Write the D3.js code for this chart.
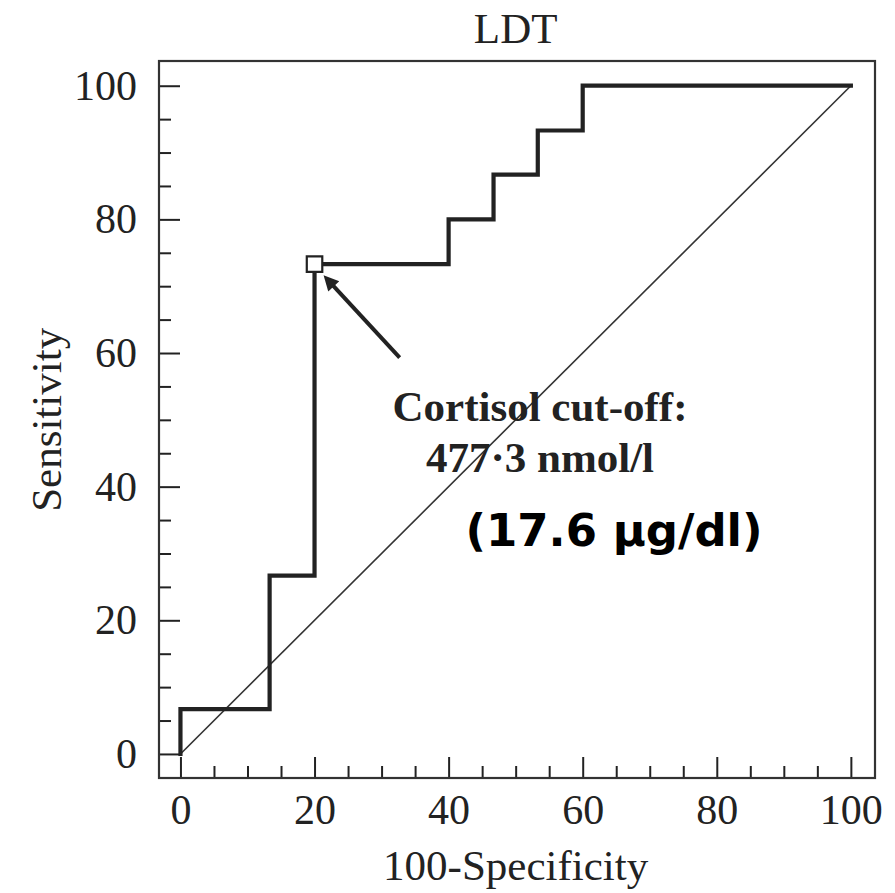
<!DOCTYPE html>
<html>
<head>
<meta charset="utf-8">
<script src="https://cdn.jsdelivr.net/npm/d3@7"></script>
<style>
  body { margin: 0; background: #fff; }
  text { font-family: "Liberation Serif", "Times New Roman", serif; fill: #222; }
</style>
</head>
<body>
<div id="chart"></div>
<script>
// ROC curve corner points (100-specificity, sensitivity)
var fprValues = [0, 0, 13.3, 13.3, 20, 20, 40, 40, 46.7, 46.7, 53.3, 53.3, 60, 60, 100];
var tprValues = [0, 6.7, 6.7, 26.7, 26.7, 73.3, 73.3, 80, 80, 86.7, 86.7, 93.3, 93.3, 100, 100];
var majorTicks = [0, 20, 40, 60, 80, 100];
var minorTicks = [5, 10, 15, 25, 30, 35, 45, 50, 55, 65, 70, 75, 85, 90, 95];
// cut-off point and its annotation
var cutoff = { x: 20, y: 73.3 };
var arrowTail = { x: 32.7, y: 59.3 };
var labelLines = ["Cortisol cut-off:", "477·3 nmol/l"];
var extraLabel = "(17.6 µg/dl)";

var W = 895, H = 893;
var svg = d3.select("#chart").append("svg")
  .attr("width", W).attr("height", H);

// frame goes a bit beyond 0..100 on each side
var x = d3.scaleLinear().domain([-3.2, 103.6]).range([159, 875]);
var y = d3.scaleLinear().domain([-3.6, 103.7]).range([778, 61]);

var ink = "#222";

// minor ticks (inward, no labels)
svg.append("g")
  .attr("transform", "translate(0," + y.range()[0] + ")")
  .call(d3.axisBottom(x).tickValues(minorTicks).tickSize(-12).tickFormat(""))
  .call(function(g){ g.select(".domain").remove(); });
svg.append("g")
  .attr("transform", "translate(" + x.range()[0] + ",0)")
  .call(d3.axisLeft(y).tickValues(minorTicks).tickSize(-12).tickFormat(""))
  .call(function(g){ g.select(".domain").remove(); });

// major ticks with labels
var xAxis = svg.append("g")
  .attr("transform", "translate(0," + y.range()[0] + ")")
  .call(d3.axisBottom(x).tickValues(majorTicks).tickSize(-21).tickPadding(16.5));
var yAxis = svg.append("g")
  .attr("transform", "translate(" + x.range()[0] + ",0)")
  .call(d3.axisLeft(y).tickValues(majorTicks).tickSize(-21).tickPadding(22));

svg.selectAll(".tick line").attr("stroke", ink).attr("stroke-width", 2);
[xAxis, yAxis].forEach(function(g){
  g.select(".domain").remove();
  g.selectAll(".tick text")
    .style("font-family", "'Liberation Serif', 'Times New Roman', serif")
    .style("font-size", "42px")
    .attr("fill", "#2a2a2a");
});

// frame
svg.append("rect")
  .attr("x", x.range()[0]).attr("y", y.range()[1])
  .attr("width", x.range()[1] - x.range()[0])
  .attr("height", y.range()[0] - y.range()[1])
  .attr("fill", "none").attr("stroke", "#333").attr("stroke-width", 2.2);

// diagonal reference line
svg.append("line")
  .attr("x1", x(0)).attr("y1", y(0))
  .attr("x2", x(100)).attr("y2", y(100))
  .attr("stroke", "#333").attr("stroke-width", 1.6);

// ROC curve
var pts = fprValues.map(function(d, i){ return [d, tprValues[i]]; });
var line = d3.line()
  .x(function(d){ return x(d[0]); })
  .y(function(d){ return y(d[1]); });
svg.append("path")
  .datum(pts)
  .attr("d", line)
  .attr("fill", "none")
  .attr("stroke", ink)
  .attr("stroke-width", 4.2)
  .attr("stroke-linejoin", "miter")
  .attr("stroke-linecap", "square");

// arrow to the cut-off point
svg.append("defs").append("marker")
  .attr("id", "arrowhead")
  .attr("viewBox", "0 0 10 10")
  .attr("refX", 2).attr("refY", 5)
  .attr("markerUnits", "userSpaceOnUse")
  .attr("markerWidth", 19).attr("markerHeight", 15)
  .attr("orient", "auto")
  .append("path")
  .attr("d", "M0,0 L10,5 L0,10 z")
  .attr("fill", ink);

var tipX = x(cutoff.x) + 7, tipY = y(cutoff.y) + 9;
var ang = Math.atan2(tipY - y(arrowTail.y), tipX - x(arrowTail.x));
svg.append("line")
  .attr("x1", x(arrowTail.x)).attr("y1", y(arrowTail.y))
  .attr("x2", tipX - 15 * Math.cos(ang)).attr("y2", tipY - 15 * Math.sin(ang))
  .attr("stroke", ink).attr("stroke-width", 4)
  .attr("marker-end", "url(#arrowhead)");

// cut-off marker
svg.append("path")
  .attr("d", d3.symbol().type(d3.symbolSquare).size(240)())
  .attr("transform", "translate(" + x(cutoff.x) + "," + y(cutoff.y) + ")")
  .attr("fill", "#fff")
  .attr("stroke", ink)
  .attr("stroke-width", 2.2);

// annotation text
var annX = 540;
svg.selectAll(".ann")
  .data(labelLines)
  .enter().append("text")
  .attr("class", "ann")
  .attr("x", annX)
  .attr("y", function(d, i){ return 421 + i * 51; })
  .attr("text-anchor", "middle")
  .style("font-size", "43px")
  .style("font-weight", "bold")
  .text(function(d){ return d; });

svg.append("text")
  .attr("x", 614)
  .attr("y", 546)
  .attr("text-anchor", "middle")
  .style("font-family", "'DejaVu Sans', Verdana, sans-serif")
  .style("font-size", "45px")
  .style("font-weight", "bold")
  .style("fill", "#000")
  .text(extraLabel);

// title and axis labels
svg.append("text")
  .attr("x", (x(0) + x(100)) / 2).attr("y", 43)
  .attr("text-anchor", "middle")
  .style("font-size", "43px")
  .text("LDT");

svg.append("text")
  .attr("x", (x(0) + x(100)) / 2).attr("y", 880)
  .attr("text-anchor", "middle")
  .style("font-size", "43px")
  .text("100-Specificity");

svg.append("text")
  .attr("transform", "translate(61," + ((y(0) + y(100)) / 2) + ") rotate(-90)")
  .attr("text-anchor", "middle")
  .style("font-size", "43px")
  .text("Sensitivity");
</script>
</body>
</html>
